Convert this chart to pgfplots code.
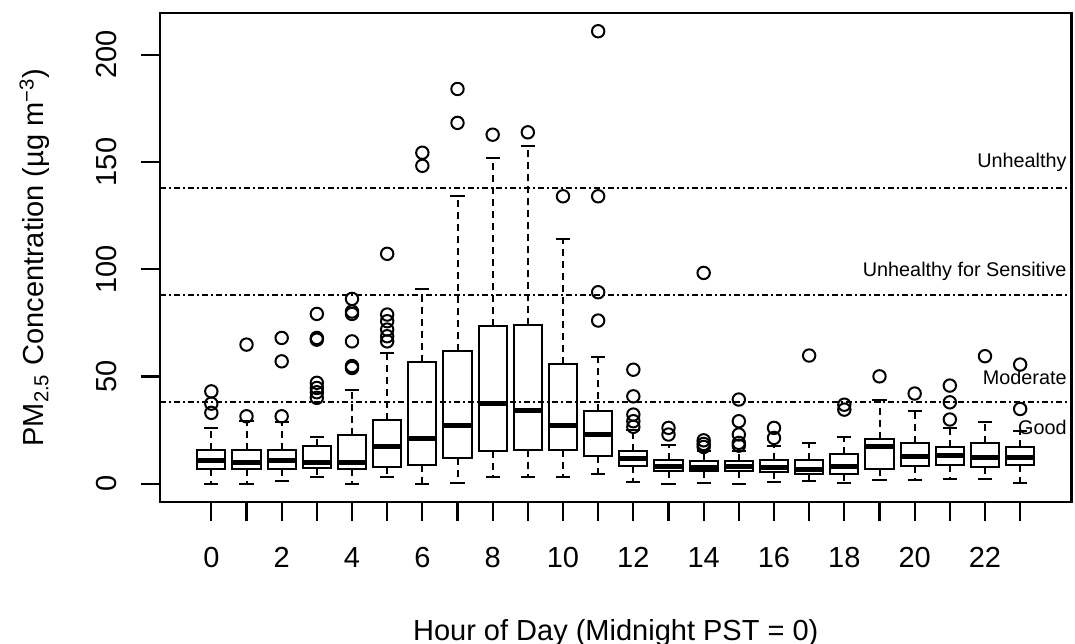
\documentclass[border=0pt]{standalone}
\usepackage{fontspec}
\setmainfont{Liberation Sans}
\usepackage{pgfplots}
\pgfplotsset{compat=1.18}
\usepgfplotslibrary{statistics}

\newcommand\bigfont{\fontsize{14.5}{17}\selectfont}
\newcommand\notefont{\fontsize{9.9}{12}\selectfont}

\pgfplotsset{
  hourbox/.style={
    black, solid, line width=1pt,
    mark=o, mark size=3.1pt, mark options={solid, line width=1pt},
    boxplot/draw direction=y,
    boxplot/box extend=0.8,
    boxplot/whisker extend=0.4,
    boxplot/every median/.style={line width=2.5pt},
    boxplot/draw/lower whisker/.code={
      \draw[dash pattern=on 3.5pt off 2.5pt]
        (boxplot box cs:\pgfplotsboxplotvalue{lower quartile},0.5) --
        (boxplot box cs:\pgfplotsboxplotvalue{lower whisker},0.5);
      \draw[solid]
        (boxplot whisker cs:\pgfplotsboxplotvalue{lower whisker},0) --
        (boxplot whisker cs:\pgfplotsboxplotvalue{lower whisker},1);
    },
    boxplot/draw/upper whisker/.code={
      \draw[dash pattern=on 3.5pt off 2.5pt]
        (boxplot box cs:\pgfplotsboxplotvalue{upper quartile},0.5) --
        (boxplot box cs:\pgfplotsboxplotvalue{upper whisker},0.5);
      \draw[solid]
        (boxplot whisker cs:\pgfplotsboxplotvalue{upper whisker},0) --
        (boxplot whisker cs:\pgfplotsboxplotvalue{upper whisker},1);
    },
  },
  aqiline/.style={black, line width=1pt,
    dash pattern=on 3pt off 1.5pt on 1pt off 1.5pt},
}

% box statistics per hour: lower whisker, Q1, median, Q3, upper whisker
\newcommand\hourbox[7]{%
  \addplot[hourbox, boxplot prepared={draw position=#1,
      lower whisker=#2, lower quartile=#3, median=#4,
      upper quartile=#5, upper whisker=#6}]
    coordinates {#7};
}

\begin{document}
\begin{tikzpicture}
\useasboundingbox (-80pt,-70.5pt) rectangle (457.5pt,251pt);
\begin{axis}[
  at={(0,0)}, anchor=south west,
  scale only axis, width=455.75pt, height=244.5pt,
  xmin=-1.46, xmax=24.46, ymin=-8.44, ymax=219.4,
  axis line style={line width=1.1pt},
  tick align=outside, tick pos=left,
  major tick length=9.5pt,
  every tick/.style={black, line width=1.1pt},
  xtick={0,...,23},
  xticklabels={0,,2,,4,,6,,8,,10,,12,,14,,16,,18,,20,,22,},
  ytick={0,50,100,150,200},
  yticklabels={0,50,100,150,200},
  xticklabel style={font=\bigfont, anchor=north, inner sep=0pt, yshift=-13pt},
  yticklabel style={font=\bigfont, rotate=90, anchor=south, inner sep=0pt, yshift=12pt},
  xlabel={Hour of Day (Midnight PST = 0)},
  ylabel={PM\textsubscript{2.5} Concentration (µg m\textsuperscript{−3})},
  xlabel style={font=\bigfont, at={([yshift=-69pt]axis description cs:0.5,0)}, anchor=base, inner sep=0pt},
  ylabel style={font=\bigfont, at={([xshift=-58pt]axis description cs:0,0.5)}, anchor=base, inner sep=0pt},
  clip=false,
]
% air quality category thresholds
\addplot[aqiline] coordinates {(-1.46,38) (24.46,38)};
\addplot[aqiline] coordinates {(-1.46,88) (24.46,88)};
\addplot[aqiline] coordinates {(-1.46,138) (24.46,138)};

\hourbox{0}{0}{7.0}{11.0}{16.0}{26.1}{(0,43.1) (0,37.4) (0,33.1)}
\hourbox{1}{0}{7.0}{10.1}{16.0}{29.2}{(1,31.5) (1,64.9)}
\hourbox{2}{1.5}{7.0}{11.0}{16.0}{29.0}{(2,31.5) (2,57.1) (2,68.0)}
\hourbox{3}{3.1}{7.5}{9.8}{17.5}{21.9}{(3,40.1) (3,42.7) (3,44.7) (3,47.1) (3,67.2) (3,68.0) (3,79.2)}
\hourbox{4}{0}{7.0}{10.1}{22.6}{43.9}{(4,54.0) (4,54.9) (4,66.4) (4,79.2) (4,80.3) (4,86.2)}
\hourbox{5}{3.1}{7.9}{17.5}{30.0}{61.0}{(5,66.4) (5,68.8) (5,71.9) (5,75.8) (5,78.9) (5,107.2)}
\hourbox{6}{0}{9.0}{21.0}{56.8}{90.8}{(6,148.2) (6,154.3)}
\hourbox{7}{0.5}{12.1}{27.2}{62.1}{134.0}{(7,168.2) (7,184.0)}
\hourbox{8}{3.3}{15.2}{37.3}{73.4}{151.9}{(8,162.7)}
\hourbox{9}{3.3}{16.0}{34.3}{74.2}{157.3}{(9,163.8)}
\hourbox{10}{3.3}{16.0}{27.2}{56.0}{114.1}{(10,134.0)}
\hourbox{11}{4.8}{13.2}{23.0}{34.1}{59.0}{(11,76.1) (11,89.3) (11,134.0) (11,210.9)}
\hourbox{12}{0.7}{8.2}{11.6}{15.2}{25.3}{(12,26.6) (12,29.2) (12,32.3) (12,40.8) (12,53.2)}
\hourbox{13}{0}{6.2}{8.2}{11.0}{18.3}{(13,23.0) (13,26.1)}
\hourbox{14}{0.5}{5.9}{7.5}{10.5}{15.5}{(14,17.2) (14,18.6) (14,20.3) (14,98.3)}
\hourbox{15}{0}{5.9}{8.2}{10.5}{15.5}{(15,17.8) (15,19.1) (15,23.0) (15,29.2) (15,39.3)}
\hourbox{16}{0.7}{5.4}{7.5}{11.0}{17.5}{(16,21.4) (16,26.1)}
\hourbox{17}{1.5}{4.8}{6.7}{11.0}{19.1}{(17,59.8)}
\hourbox{18}{0.5}{4.8}{8.2}{14.1}{21.9}{(18,34.6) (18,36.9)}
\hourbox{19}{2.0}{7.1}{17.5}{21.0}{39.0}{(19,50.1)}
\hourbox{20}{2.0}{8.5}{12.9}{19.1}{33.8}{(20,42.1)}
\hourbox{21}{2.3}{9.0}{13.2}{17.2}{26.1}{(21,30.0) (21,38.0) (21,45.8)}
\hourbox{22}{2.3}{7.9}{12.1}{19.1}{28.9}{(22,59.5)}
\hourbox{23}{0.5}{9.0}{12.1}{17.2}{24.5}{(23,34.9) (23,55.6)}

\node[anchor=east, inner sep=0pt, font=\notefont] at (axis cs:24.33,149.7) {Unhealthy};
\node[anchor=east, inner sep=0pt, font=\notefont] at (axis cs:24.33,99.0) {Unhealthy for Sensitive};
\node[anchor=east, inner sep=0pt, font=\notefont] at (axis cs:24.33,49.4) {Moderate};
\node[anchor=east, inner sep=0pt, font=\notefont] at (axis cs:24.33,26.1) {Good};
\end{axis}
\end{tikzpicture}
\end{document}
